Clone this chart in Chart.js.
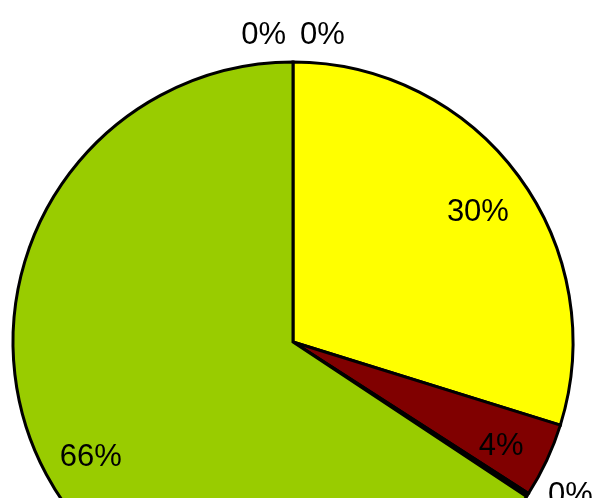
<!DOCTYPE html>
<html>
<head>
<meta charset="utf-8">
<script src="https://cdn.jsdelivr.net/npm/chart.js@4/dist/chart.umd.min.js"></script>
<style>
    html, body {
        margin: 0;
        padding: 0;
        background: #ffffff;
        overflow: hidden;
    }
    #wrap {
        width: 594px;
        height: 498px;
        overflow: hidden;
        position: relative;
    }
    #pie {
        position: absolute;
        left: 0;
        top: 0;
    }
</style>
</head>
<body>
<div id="wrap">
    <canvas id="pie" width="594" height="684"></canvas>
</div>
<script>
// slices, clockwise from 12 o'clock
const sliceNames = ['A', 'B', 'C', 'D', 'E', 'F'];
const sliceValues = [0, 29.8, 4.3, 0.2, 65.7, 0];
const sliceColors = ['#3366ff', '#ffff00', '#800000', '#000000', '#99cc00', '#ff9900'];

const labelFont = '31px "Liberation Sans", Arial, sans-serif';

// percentage labels: inside for real slices, outside for tiny ones
const percentLabels = {
    id: 'percentLabels',
    afterDatasetsDraw(chart) {
        const ctx = chart.ctx;
        const meta = chart.getDatasetMeta(0);
        const values = chart.data.datasets[0].data;
        const total = values.reduce((a, b) => a + b, 0);

        ctx.save();
        ctx.font = labelFont;
        ctx.fillStyle = '#000000';
        ctx.textBaseline = 'middle';

        meta.data.forEach((arc, i) => {
            const pct = values[i] / total * 100;
            const text = Math.round(pct) + '%';
            const mid = (arc.startAngle + arc.endAngle) / 2;
            const cos = Math.cos(mid);
            const sin = Math.sin(mid);
            const r = arc.outerRadius;

            if (pct >= 1) {
                ctx.textAlign = 'center';
                ctx.fillText(text, arc.x + cos * r * 0.82, arc.y + sin * r * 0.82 + 7);
                return;
            }

            // which half of the pie, measured clockwise from the top
            const fromTop = mid + Math.PI / 2;
            const rightSide = fromTop < Math.PI;
            const ex = arc.x + cos * r;
            const ey = arc.y + sin * r;
            ctx.textAlign = rightSide ? 'left' : 'right';
            const x = ex + cos * 16 + (rightSide ? 7 : -7);
            const y = ey + Math.min(sin, 0) * 27;
            ctx.fillText(text, x, y);
        });
        ctx.restore();
    }
};

new Chart(document.getElementById('pie'), {
    type: 'pie',
    data: {
        labels: sliceNames,
        datasets: [{
            data: sliceValues,
            backgroundColor: sliceColors,
            borderColor: '#000000',
            borderWidth: 3,
            borderJoinStyle: 'miter',
        }],
    },
    options: {
        responsive: false,
        animation: false,
        radius: 280,
        layout: {
            padding: { left: 0, right: 8, top: 0, bottom: 0 },
        },
        plugins: {
            legend: { display: false },
            tooltip: { enabled: false },
        },
    },
    plugins: [percentLabels],
});
</script>
</body>
</html>
